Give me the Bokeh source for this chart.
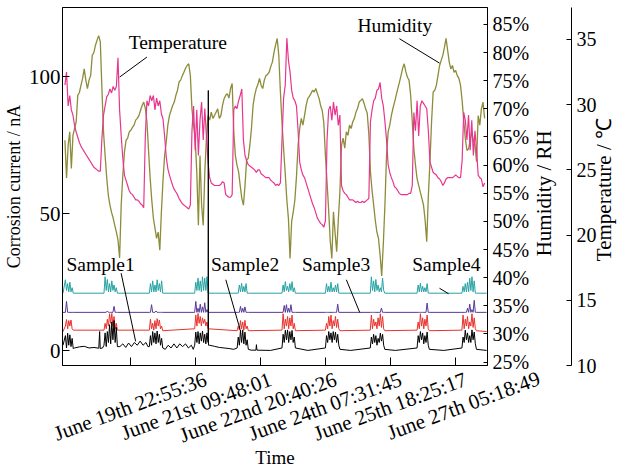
import math
import numpy as np
from bokeh.plotting import figure
from bokeh.models import (Range1d, LinearAxis, FixedTicker, PrintfTickFormatter,
                          CustomJSTickFormatter, Label, Arrow)
from bokeh.embed import file_html
from bokeh.resources import INLINE

FONT = "Liberation Serif"

# ---------------- data ----------------
# time axis: hours relative to June 19th 22:55:36
tick_hours = [0.0, 34.874, 69.747, 104.603, 139.495, 174.387]
tick_labels = ["June 19th 22:55:36", "June 21st 09:48:01", "June 22nd 20:40:26",
               "June 24th 07:31:45", "June 25th 18:25:17", "June 27th 05:18:49"]

# environment logger: regular sampling grid
env_t_start = -35.37
env_dt = 0.8632

humidity = [
 64.4, 57.7, 63.5, 65.9, 59.4, 65.3, 66.5, 67.7, 72.4, 72.9,
 74.2, 75.4, 77.1, 75.1, 73.6, 75.1, 75.9, 79.5, 80.0, 81.3,
 82.2, 83.0, 81.9, 73.6, 65.9, 61.7, 57.7, 54.6, 52.9, 51.6,
 50.6, 49.3, 48.1, 46.7, 43.5, 52.9, 58.2, 62.3, 64.4, 64.8,
 65.9, 66.2, 66.7, 67.1, 68.0, 68.3, 68.8, 69.7, 70.6, 71.2,
 70.1, 67.7, 62.6, 57.7, 53.8, 50.6, 48.8, 47.0, 48.1, 44.9,
 51.7, 57.3, 61.7, 64.1, 67.1, 68.8, 69.7, 70.6, 71.2, 72.4,
 73.3, 74.8, 75.1, 75.9, 76.5, 77.2, 77.7, 78.0, 75.9, 70.0,
 67.1, 64.7, 58.8, 49.3, 61.7, 52.9, 49.3, 58.8, 64.8, 68.8,
 68.0, 69.4, 68.3, 68.8, 69.4, 70.0, 68.3, 68.8, 70.6, 71.8,
 72.4, 72.7, 71.9, 73.6, 74.5, 65.9, 61.7, 60.0, 58.8, 56.4,
 54.1, 52.9, 56.4, 60.9, 61.2, 63.5, 66.5, 70.6, 72.4, 73.6,
 74.3, 75.4, 74.2, 73.6, 75.1, 75.9, 76.1, 76.5, 77.5, 78.3,
 80.0, 81.3, 82.5, 79.5, 73.0, 67.5, 62.9, 58.5, 53.8, 50.5,
 43.4, 50.0, 51.7, 53.8, 58.0, 63.5, 66.5, 68.3, 67.1, 68.8,
 70.6, 71.8, 72.2, 72.7, 73.3, 73.0, 73.6, 72.7, 71.9, 70.6,
 69.7, 67.5, 61.7, 57.0, 52.0, 46.5, 43.4, 51.7, 48.0, 44.6,
 50.2, 55.2, 63.5, 64.8, 63.0, 65.9, 65.3, 67.1, 66.5, 67.7,
 68.3, 69.4, 70.1, 71.2, 71.5, 71.8, 71.0, 70.0, 69.2, 65.5,
 58.8, 55.5, 52.9, 50.2, 48.1, 47.0, 44.0, 40.3, 46.0, 52.9,
 61.7, 65.9, 67.1, 68.8, 70.1, 71.2, 72.4, 73.6, 74.7, 75.9,
 77.2, 78.0, 76.6, 75.6, 75.1, 72.4, 67.7, 62.9, 60.0, 57.6,
 56.4, 55.2, 54.1, 52.9, 50.2, 46.4, 54.5, 60.6, 67.7, 73.0,
 73.3, 74.2, 75.9, 77.7, 78.6, 79.5, 80.9, 82.5, 80.4, 78.3,
 77.1, 77.7, 76.5, 76.8, 75.9, 75.4, 74.2, 71.5, 68.0, 64.7,
 62.6, 62.9, 64.4, 65.9, 64.4, 63.5, 60.6, 68.8, 67.1, 70.0,
 71.2, 68.3]

temperature = [
 31.5, 32.5, 29.9, 30.7, 29.6, 29.2, 28.4, 27.9, 27.5, 27.1,
 26.8, 26.6, 26.4, 26.2, 26.0, 25.8, 25.6, 25.4, 25.2, 25.1,
 25.0, 24.9, 24.9, 27.4, 29.2, 29.9, 30.6, 30.8, 31.2, 30.9,
 31.4, 31.1, 31.4, 33.6, 29.6, 27.6, 25.9, 24.6, 24.2, 23.8,
 23.4, 23.2, 23.1, 22.9, 22.7, 22.7, 22.6, 22.4, 22.3, 22.1,
 27.6, 30.3, 29.9, 30.7, 30.3, 30.7, 29.6, 30.5, 29.9, 30.3,
 29.3, 28.9, 27.6, 26.0, 25.1, 24.6, 24.2, 23.8, 23.5, 23.3,
 23.1, 22.8, 22.6, 22.4, 22.3, 22.2, 22.1, 22.0, 22.3, 28.0,
 29.9, 26.5, 29.6, 26.1, 28.8, 30.2, 27.3, 29.7, 27.6, 25.6,
 24.4, 24.0, 23.9, 23.8, 23.8, 23.8, 23.8, 23.9, 24.1, 24.0,
 23.1, 23.0, 22.9, 22.9, 23.1, 29.6, 29.9, 29.7, 30.3, 30.7,
 31.2, 27.3, 26.1, 25.7, 25.4, 25.3, 25.2, 25.1, 25.0, 24.8,
 25.0, 25.0, 24.7, 24.6, 24.5, 24.4, 24.4, 24.4, 24.2, 24.1,
 24.0, 23.8, 23.9, 23.8, 24.0, 27.3, 30.5, 31.5, 35.1, 33.4,
 32.5, 31.1, 30.5, 30.3, 29.9, 28.0, 25.6, 25.0, 24.6, 24.4,
 24.0, 23.6, 23.2, 22.8, 22.4, 22.1, 21.7, 21.3, 21.1, 20.9,
 20.8, 20.6, 21.1, 27.3, 29.6, 29.9, 28.8, 30.2, 29.2, 29.9,
 28.4, 29.2, 23.8, 23.4, 23.2, 23.1, 22.9, 22.7, 22.7, 22.7,
 22.6, 22.5, 22.6, 22.5, 22.5, 22.6, 22.5, 22.6, 22.7, 22.8,
 28.7, 29.6, 30.3, 30.5, 31.1, 31.2, 31.7, 30.5, 29.9, 28.7,
 27.3, 25.4, 24.8, 24.4, 24.1, 23.7, 23.6, 23.4, 23.2, 23.1,
 23.1, 23.1, 23.1, 23.1, 23.2, 23.2, 23.8, 29.4, 28.0, 30.3,
 27.6, 29.9, 30.3, 30.1, 29.9, 29.7, 28.0, 25.6, 25.2, 24.8,
 24.7, 24.6, 24.4, 24.3, 24.1, 23.8, 24.0, 24.3, 24.4, 24.4,
 24.4, 24.4, 24.5, 24.6, 24.5, 24.4, 24.4, 25.7, 29.4, 28.8,
 27.3, 29.2, 26.5, 28.8, 26.1, 28.0, 26.5, 24.6, 24.4, 24.3,
 23.7, 24.0]

# corrosion current bursts (nA), sampled every burst_step hours from each start
burst_start = [-35.11, -14.40, 9.94, 34.28, 57.07, 81.15, 104.46, 128.54, 153.66, 177.74]
burst_step = 0.6
sample_offsets = [0, 7, 14, 21]
sample_names = ["Sample1", "Sample2", "Sample3", "Sample4"]

s1_bursts = [
 [5.5, 1.0, 6.4, 2.0, 5.8, 1.5, 4.5, 0.8],
 [2.0, 6.5, 1.5, 7.0, 3.0, 9.5, 2.5, 10.5, 4.0, 11.0, 3.0, 8.5, 1.5],
 [1.5, 5.5, 2.0, 7.0, 3.0, 6.5, 2.5, 7.2, 3.0, 6.0, 2.0, 4.5, 1.0],
 [2.0, 6.8, 3.0, 7.0, 2.5, 6.5, 3.5, 7.2, 3.0, 6.0, 2.5, 6.5, 3.0],
 [1.0, 5.0, 2.0, 7.5, 3.0, 7.6, 2.5, 6.8, 2.0, 4.0, 0.5],
 [1.0, 6.0, 3.0, 7.5, 4.0, 7.6, 3.0, 7.0, 4.0, 7.4, 3.0, 5.0, 1.0],
 [1.0, 5.5, 3.0, 7.0, 4.0, 6.5, 3.0, 7.0, 4.0, 6.8, 3.0, 6.0, 2.0, 0.5],
 [1.0, 5.0, 2.5, 6.0, 3.0, 5.5, 2.0, 4.5, 3.0, 6.4, 3.5, 6.0, 2.0, 0.5],
 [1.0, 5.5, 3.0, 7.0, 4.0, 6.5, 2.5, 5.5, 3.0, 6.8, 2.0, 0.5],
 [1.0, 5.0, 3.0, 7.5, 4.0, 6.5, 3.0, 5.5, 3.0, 7.6, 4.0, 6.8, 2.5, 0.5]]
s1_base_t = [-36.4, -30.19, -27.6, -25.0, -22.4, -19.8, -17.2, -16.73, -16.42, -15.17,
             -5.85, -4.30, -2.74, -1.19, 0.36, 1.92, 3.47, 5.02, 6.58, 8.13, 9.17,
             18.49, 20.04, 21.60, 23.15, 24.70, 26.26, 27.81, 29.37, 30.92, 32.47, 33.51,
             41.6, 41.7, 42.31, 44.9, 47.49, 50.08, 52.67, 55.26,
             64.58, 67.17, 67.43, 67.69, 75.0, 95.0, 118.0, 142.0, 168.0, 191.0]
s1_base_v = [2.0, 1.0, 1.4, 1.6, 1.0, 1.2, 0.9, 7.0, 0.8, 1.0,
             1.5, 2.5, 1.2, 2.8, 1.5, 3.0, 2.0, 3.5, 2.0, 3.0, 1.5,
             0.5, 2.0, 1.0, 2.5, 1.0, 2.5, 1.5, 2.5, 1.0, 2.0, 0.5,
             95.0, 2.0, 2.0, 1.6, 1.2, 1.0, 0.8, 0.5,
             0.2, 0.2, 2.2, 0.2, 0.1, 0.1, 0.1, 0.1, 0.1, 0.1]

s2_bursts = [
 [2.0, 4.4, 1.0, 4.0, 2.0, 4.2, 1.0, 0.5],
 [0.5, 3.0, 1.0, 4.5, 2.0, 6.5, 3.0, 6.6, 2.0, 5.5, 1.0, 3.0, 0.5],
 [0.5, 4.5, 1.0, 3.0, 0.5, 4.0, 1.0, 4.7, 2.0, 4.2, 1.0, 2.0, 0.3],
 [1.0, 6.0, 2.0, 6.6, 3.0, 5.5, 2.0, 5.0, 3.0, 4.5, 2.0, 3.5, 1.0],
 [0.3, 2.0, 0.5, 4.0, 1.0, 3.5, 0.5, 4.1, 1.0, 2.0, 0.3],
 [0.5, 6.5, 1.0, 4.5, 2.0, 5.5, 1.0, 5.0, 2.0, 6.0, 1.0, 3.0, 0.3],
 [0.5, 3.0, 1.0, 5.5, 2.0, 6.0, 1.0, 4.0, 2.0, 5.5, 1.5, 4.5, 1.0, 0.3],
 [0.5, 6.0, 1.0, 4.5, 2.0, 3.5, 1.0, 5.0, 2.0, 6.5, 1.5, 5.5, 1.0, 0.3],
 [0.5, 3.5, 1.0, 6.5, 2.0, 5.0, 1.0, 4.5, 2.0, 6.0, 1.0, 0.3],
 [0.5, 6.0, 1.0, 4.5, 2.0, 5.5, 1.0, 3.5, 2.0, 6.5, 1.5, 5.0, 1.0, 0.3]]

s3_bursts = [
 [0, 4.0, 0, 0, 0, 0, 0, 0],
 [0, 0, 0, 0.5, 0, 0, 0, 0, 0, 2.2, 0, 0, 0],
 [0, 0, 2.8, 0, 0, 0, 0.5, 0, 0, 0, 0, 0, 0],
 [0, 4.0, 0, 1.5, 0, 3.0, 0, 2.0, 0, 3.5, 0, 1.0, 0],
 [0, 0, 0, 2.2, 0, 1.5, 0, 2.0, 0, 0, 0],
 [0, 0, 2.5, 0, 2.8, 0, 1.5, 0, 2.8, 0, 0, 0, 0],
 [0, 0, 0, 0, 0, 0, 0, 0, 0, 0, 0, 3.0, 0, 0],
 [0, 0, 0, 0, 0, 0, 0, 0, 0, 0, 1.6, 0, 0, 0],
 [0, 0, 0, 0, 0, 0, 0, 0, 0, 3.4, 0, 0],
 [0, 0, 0, 0, 0, 1.5, 0, 3.0, 0, 1.0, 0, 4.4, 0, 0]]

s4_bursts = [
 [4.9, 1.0, 3.5, 0.5, 4.0, 0.5, 2.0, 0],
 [0, 6.0, 1.0, 5.0, 0.5, 3.5, 0.5, 4.5, 1.0, 3.0, 0.5, 2.0, 0],
 [0, 3.5, 0.5, 4.5, 0.5, 3.0, 0.5, 4.9, 1.0, 3.5, 0.5, 4.5, 0],
 [0, 4.0, 1.0, 5.5, 1.0, 4.5, 0.5, 6.0, 1.0, 5.5, 1.0, 6.0, 0],
 [0, 0, 3.0, 0.5, 3.6, 0.5, 2.5, 0.5, 3.5, 0, 0],
 [0, 3.0, 0.5, 4.2, 1.0, 2.5, 0.5, 3.5, 1.0, 4.2, 0.5, 2.0, 0],
 [0, 3.5, 0.5, 2.5, 0.5, 4.0, 0.5, 2.0, 0.5, 3.0, 0.5, 3.5, 0, 0],
 [0, 6.0, 1.0, 4.5, 0.5, 5.0, 1.0, 3.0, 0.5, 2.0, 0.5, 5.5, 1.0, 0],
 [0, 3.0, 0.5, 3.6, 0.5, 2.5, 0.5, 2.0, 0.5, 3.5, 0, 0],
 [0, 2.5, 0.5, 3.5, 0.5, 4.0, 0.5, 5.5, 1.0, 6.0, 0.5, 4.5, 0, 0]]
flat_base_t = [-36.4, 191.0]
flat_base_v = [0.0, 0.0]

# ---------------- styling ----------------
OLIVE = "#8c8c3a"
PINK = "#e8368f"
SAMPLE_COLORS = ["#000000", "#e8322d", "#56399a", "#27a2a2"]

X0, X1 = -36.67, 191.47
Y0, Y1 = -5.4, 125.3
p = figure(width=631, height=471, output_backend="svg", toolbar_location=None,
           x_range=Range1d(X0, X1), y_range=Range1d(Y0, Y1),
           min_border_left=62, min_border_right=128, min_border_top=7, min_border_bottom=106)
# shifted copies of the time range used to anchor the rotated date labels
END_SHIFT = 40.24     # labels 1-5: anchored at their right end
START_SHIFT = -36.25  # label 6: anchored at its left start
p.extra_x_ranges = {"lab_end": Range1d(X0 - END_SHIFT, X1 - END_SHIFT),
                    "lab_start": Range1d(X0 - START_SHIFT, X1 - START_SHIFT)}
p.extra_y_ranges = {"hum": Range1d(24.4, 88.0), "temp": Range1d(10.0, 37.45)}
p.xgrid.visible = False
p.ygrid.visible = False
p.outline_line_color = "black"
p.outline_line_width = 1
p.background_fill_color = "white"
p.border_fill_color = "white"

# left axis
ya = p.yaxis[0]
ya.ticker = FixedTicker(ticks=[0, 50, 100])
ya.minor_tick_line_color = None
ya.major_tick_in = 7
ya.major_tick_out = 0
ya.major_label_standoff = 2
ya.major_label_text_font = FONT
ya.major_label_text_font_size = "21px"
ya.major_label_text_color = "black"
ya.axis_label = "Corrosion current / nA"
ya.axis_label_text_font = FONT
ya.axis_label_text_font_size = "18px"
ya.axis_label_text_font_style = "normal"
ya.axis_label_text_color = "black"
ya.axis_label_standoff = 2

# bottom axis: tick marks only
xa = p.xaxis[0]
xa.ticker = FixedTicker(ticks=tick_hours)
xa.formatter = CustomJSTickFormatter(code="return ''")
xa.major_label_text_font_size = "0px"
xa.major_label_text_color = None
xa.major_label_standoff = 0
xa.minor_tick_line_color = None
xa.major_tick_in = 8
xa.major_tick_out = 0

LABEL_CODE = ("const i = vals.findIndex(v => Math.abs(v - tick) < 1e-6); "
              "return i < 0 ? '' : labels[i];")


def date_axis(range_name, ticks, angle, standoff):
    ax = LinearAxis(x_range_name=range_name, ticker=FixedTicker(ticks=ticks),
                    formatter=CustomJSTickFormatter(
                        args=dict(vals=tick_hours, labels=tick_labels), code=LABEL_CODE))
    ax.axis_line_color = None
    ax.major_tick_line_color = None
    ax.minor_tick_line_color = None
    ax.major_tick_in = 0
    ax.major_tick_out = 0
    ax.major_label_orientation = angle
    ax.major_label_standoff = standoff
    ax.major_label_text_font = FONT
    ax.major_label_text_font_size = "21px"
    ax.major_label_text_color = "black"
    return ax


LABEL_ANGLE = 0.355
lab_end = date_axis("lab_end", tick_hours[:5], LABEL_ANGLE, 13)
# same visual rotation, written as a negative angle so the label hangs from its start
lab_start = date_axis("lab_start", tick_hours[5:], LABEL_ANGLE - 2 * math.pi, -28)
lab_start.axis_label = "Time"
lab_start.axis_label_text_font = FONT
lab_start.axis_label_text_font_size = "19px"
lab_start.axis_label_text_font_style = "normal"
lab_start.axis_label_text_color = "black"
lab_start.axis_label_standoff = -23
p.add_layout(lab_end, "below")
p.add_layout(lab_start, "below")

# right side: humidity numbers, humidity title, temperature numbers, temperature title
hum_axis = LinearAxis(y_range_name="hum", ticker=FixedTicker(ticks=list(range(25, 90, 5))),
                      formatter=PrintfTickFormatter(format="%d%%"))
temp_axis = LinearAxis(y_range_name="temp", ticker=FixedTicker(ticks=[10, 15, 20, 25, 30, 35]))
for ax, tin in ((hum_axis, 4), (temp_axis, 5)):
    ax.minor_tick_line_color = None
    ax.major_tick_in = tin
    ax.major_tick_out = 0
    ax.major_label_standoff = 5
    ax.major_label_text_font = FONT
    ax.major_label_text_font_size = "20px"
    ax.major_label_text_color = "black"

HUM_TITLE = "Humidity / RH"
TEMP_TITLE = "Temperature / \u2103"


def title_axis(range_name, start_value, text, standoff):
    ax = LinearAxis(y_range_name=range_name, ticker=FixedTicker(ticks=[start_value]),
                    formatter=CustomJSTickFormatter(args=dict(t=text), code="return t"))
    ax.axis_line_color = None
    ax.major_tick_line_color = None
    ax.minor_tick_line_color = None
    ax.major_tick_in = 0
    ax.major_tick_out = 0
    ax.major_label_orientation = math.pi / 2
    ax.major_label_standoff = standoff
    ax.major_label_text_font = FONT
    ax.major_label_text_font_size = "21px"
    ax.major_label_text_color = "black"
    return ax


p.add_layout(hum_axis, "right")
p.add_layout(title_axis("hum", 43.8, HUM_TITLE, 12), "right")
p.add_layout(temp_axis, "right")
p.add_layout(title_axis("temp", 18.0, TEMP_TITLE, 5), "right")

# ---------------- curves ----------------
env_t = env_t_start + env_dt * np.arange(len(humidity))
p.line(env_t, humidity, y_range_name="hum", line_color=OLIVE, line_width=1.3)
p.line(env_t[:len(temperature)], temperature, y_range_name="temp", line_color=PINK, line_width=1.2)


def build(base_t, base_v, bursts, offset):
    t = list(base_t)
    v = list(base_v)
    for start, vals in zip(burst_start, bursts):
        for j, val in enumerate(vals):
            t.append(start + burst_step * j)
            v.append(val)
    order = np.argsort(t, kind="stable")
    return np.array(t)[order], np.array(v)[order] + offset


all_bursts = [s1_bursts, s2_bursts, s3_bursts, s4_bursts]
for k in (3, 2, 1, 0):
    bt, bv = (s1_base_t, s1_base_v) if k == 0 else (flat_base_t, flat_base_v)
    tt, vv = build(bt, bv, all_bursts[k], sample_offsets[k])
    p.line(tt, vv, line_color=SAMPLE_COLORS[k], line_width=1)

# ---------------- annotations ----------------
TXT = dict(text_font=FONT, text_font_size="19.5px", text_color="black",
           text_align="center", text_baseline="middle")
p.add_layout(Label(x=25.2, y=112.6, text="Temperature", **TXT))
p.add_layout(Label(x=141.7, y=118.8, text="Humidity", **TXT))
sample_label_x = [-16.2, 61.3, 110.2, 169.4]
for name, lx in zip(sample_names, sample_label_x):
    p.add_layout(Label(x=lx, y=31.3, text=name, **TXT))

leaders = [(8.65, 107.2, -6.0, 99.9), (144.2, 113.9, 165.7, 105.0),
           (-5.2, 28.3, 2.6, 3.4), (51.0, 25.9, 58.7, 7.65),
           (115.7, 25.9, 122.9, 13.95), (165.7, 22.8, 170.6, 20.8)]
for x0, y0, x1, y1 in leaders:
    p.add_layout(Arrow(end=None, x_start=x0, y_start=y0, x_end=x1, y_end=y1,
                       line_color="black", line_width=1))

open("out.html", "w").write(file_html(p, INLINE))
